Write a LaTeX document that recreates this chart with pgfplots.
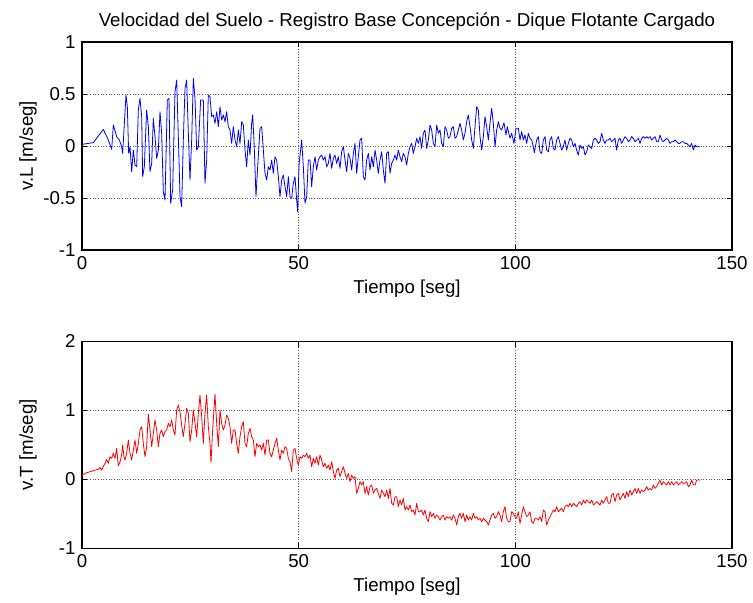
\documentclass[border=0pt]{standalone}
\usepackage{pgfplots}
\pgfplotsset{compat=1.18}
\usepackage{fontspec}
\setmainfont{Liberation Sans}
\begin{document}
\fontsize{14pt}{17pt}\selectfont
\begin{tikzpicture}
\pgfplotsset{
  mstyle/.style={
    scale only axis, width=487.5pt, height=156pt,
    xmin=0, xmax=150, xtick={0,50,100,150},
    tick align=inside, major tick length=4pt,
    xmajorgrids, ymajorgrids,
    grid style={line width=0.5pt, gray!70!black, dash pattern=on 0.8pt off 1.2pt},
    axis line style={line width=0.9pt},
    every tick/.style={black, line width=0.6pt},
    tick label style={font=\fontsize{14pt}{17pt}\selectfont},
    label style={font=\fontsize{14pt}{17pt}\selectfont},
    /pgf/number format/assume math mode=true,
    xlabel={Tiempo [seg]},
    xlabel style={yshift=2pt},
    every axis y label/.style={at={([xshift=-40.5pt]rel axis cs:0,0.5)}, rotate=90, anchor=center},
    anchor=south west,
  }
}
\path[use as bounding box] (0,0) rectangle (564.75pt,452.25pt);
\begin{axis}[mstyle, at={(61.5pt,264.75pt)},
  ymin=-1, ymax=1, ytick={-1,-0.5,0,0.5,1},
  yticklabels={-1,-0.5,0,0.5,1},
  ylabel={v.L [m/seg]},
  title={Velocidad del Suelo - Registro Base Concepción - Dique Flotante Cargado},
  title style={font=\fontsize{14pt}{17pt}\selectfont, yshift=-2pt}]
\addplot[blue, line width=0.6pt, line join=round] coordinates {
(0,0.016) (2.62,0.032) (4.92,0.160) (6.08,0.058) (6.85,-0.032) (7.23,0.202) (8.0,0.090) (8.62,0.058)
(9.15,-0.007) (9.38,-0.071) (10.15,0.490) (10.46,0.378) (10.77,-0.071) (11.08,-0.007) (11.46,-0.247)
(11.85,-0.039) (12.23,-0.183) (12.62,-0.199) (13.0,0.346) (13.38,0.458) (13.77,0.282) (14.0,-0.295)
(14.38,-0.199) (14.92,0.346) (15.31,0.186) (15.69,-0.247) (16.08,-0.167) (16.46,0.266) (16.85,0.090)
(17.23,-0.119) (17.62,-0.039) (18.0,0.330) (18.38,0.122) (18.77,-0.439) (19.15,-0.519) (19.69,0.442)
(20.08,0.458) (20.46,-0.551) (20.92,-0.423) (21.46,0.522) (21.85,0.634) (22.23,0.090) (22.62,-0.487)
(23.0,-0.583) (23.38,0.058) (23.77,0.554) (24.15,0.634) (24.54,0.122) (24.92,-0.327) (25.31,0.058)
(25.69,0.650) (26.08,0.458) (26.46,-0.039) (26.85,-0.007) (27.38,0.442) (28.0,0.442) (28.38,-0.359)
(28.77,-0.135) (29.15,0.490) (29.54,0.474) (29.92,0.282) (30.31,0.298) (30.69,0.218) (31.08,0.330)
(31.46,0.186) (31.85,0.378) (32.23,0.250) (32.62,0.298) (33.0,0.234) (33.38,0.330) (33.77,0.186)
(34.15,0.154) (34.54,0.025) (34.92,0.186) (35.31,0.058) (35.69,-0.007) (36.08,0.154) (36.46,0.025)
(36.85,0.234) (37.23,0.202) (37.62,-0.039) (38.0,-0.199) (38.38,0.058) (38.77,-0.087) (39.15,0.218)
(39.38,0.298) (39.69,0.058) (40.15,-0.487) (40.54,-0.199) (41.08,0.170) (41.46,0.186) (41.85,-0.039)
(42.23,-0.263) (42.62,-0.327) (43.0,-0.199) (43.38,-0.231) (43.77,-0.135) (44.15,-0.263) (44.54,-0.103)
(44.92,-0.135) (45.31,-0.295) (45.69,-0.487) (46.08,-0.327) (46.46,-0.279) (46.85,-0.391) (47.23,-0.487)
(47.62,-0.295) (48.0,-0.487) (48.38,-0.503) (48.77,-0.359) (49.15,-0.295) (49.54,-0.519) (49.77,-0.631)
(50.08,-0.183) (50.69,0.058) (51.08,-0.199) (51.46,-0.551) (51.85,-0.487) (52.23,-0.135) (52.62,-0.135)
(53.0,-0.391) (53.38,-0.199) (53.77,-0.103) (54.15,-0.231) (54.54,-0.135) (54.92,-0.103) (55.31,-0.087)
(55.69,-0.135) (56.08,-0.103) (56.46,-0.199) (56.85,-0.167) (57.23,-0.071) (57.62,-0.215) (58.0,-0.119)
(58.38,-0.087) (58.77,-0.167) (59.15,-0.103) (59.54,-0.215) (59.92,-0.055) (60.31,-0.007) (60.69,-0.135)
(61.08,-0.247) (61.46,-0.071) (61.85,-0.119) (62.23,-0.231) (62.62,-0.071) (63.0,0.025) (63.38,-0.263)
(63.77,-0.103) (64.15,0.058) (64.54,0.074) (64.92,-0.295) (65.31,-0.327) (65.69,-0.135) (66.08,-0.071)
(66.46,-0.231) (66.85,-0.103) (67.23,-0.199) (67.62,-0.039) (68.0,-0.135) (68.38,-0.263) (68.77,-0.135)
(69.15,-0.055) (69.54,-0.231) (69.92,-0.359) (70.31,-0.071) (70.69,-0.055) (71.08,-0.263) (71.46,-0.167)
(71.85,-0.135) (72.23,-0.087) (72.62,-0.135) (73.0,-0.039) (73.38,-0.103) (73.77,-0.151) (74.15,-0.071)
(74.54,-0.103) (74.92,-0.183) (75.31,-0.071) (75.69,-0.007) (76.08,0.025) (76.46,-0.071) (76.85,-0.007)
(77.23,0.074) (77.62,0.025) (78.0,0.090) (78.38,-0.023) (78.77,0.122) (79.15,0.154) (79.54,-0.023)
(79.92,0.058) (80.31,0.202) (80.69,0.154) (81.08,0.025) (81.46,-0.007) (81.85,0.202) (82.23,0.122)
(82.62,0.154) (83.0,0.025) (83.38,-0.007) (83.77,0.186) (84.15,0.154) (84.54,0.074) (84.92,0.090)
(85.31,0.170) (85.69,0.186) (86.08,0.074) (86.46,0.090) (86.85,0.154) (87.23,0.218) (87.62,0.154)
(88.0,0.058) (88.38,0.122) (88.77,0.234) (89.15,0.298) (89.54,0.186) (89.92,0.058) (90.31,-0.023)
(90.69,0.186) (91.08,0.378) (91.46,0.346) (91.85,0.090) (92.23,-0.039) (92.62,0.090) (93.0,0.282)
(93.38,0.186) (93.77,0.058) (94.15,0.218) (94.54,0.362) (94.92,0.218) (95.31,-0.007) (95.69,0.154)
(96.08,0.234) (96.46,0.170) (96.85,0.154) (97.38,0.224) (97.85,0.106) (98.15,0.186) (98.77,0.074)
(99.15,0.122) (99.69,0.025) (100.15,0.170) (100.69,0.170) (101.08,0.058) (101.46,0.138) (101.85,0.058)
(102.23,0.106) (102.62,0.025) (103.0,0.122) (103.38,0.074) (103.77,0.058) (104.15,-0.007) (104.38,-0.064)
(104.92,0.058) (105.31,0.090) (105.69,-0.055) (106.08,-0.071) (106.46,0.058) (106.85,0.090) (107.23,-0.039)
(107.62,-0.055) (108.0,0.058) (108.38,0.090) (108.77,-0.023) (109.15,-0.039) (109.54,0.058) (109.92,0.090)
(110.31,0.025) (110.69,-0.039) (111.08,-0.007) (111.46,0.058) (111.85,-0.039) (112.23,0.025) (112.62,0.074)
(113.0,0.058) (113.38,-0.007) (113.77,0.025) (114.15,-0.039) (114.54,-0.087) (114.92,0.009) (115.31,-0.023)
(115.69,-0.007) (116.08,-0.087) (116.46,-0.055) (116.85,0.009) (117.23,-0.007) (117.62,-0.023) (118.0,0.058)
(118.38,0.074) (118.77,0.058) (119.15,0.025) (119.54,0.041) (119.92,0.122) (120.31,0.058) (120.69,0.025)
(121.08,0.058) (121.46,0.058) (121.85,0.074) (122.23,0.041) (122.62,0.058) (123.0,0.074) (123.38,-0.039)
(123.77,0.058) (124.15,0.074) (124.54,0.025) (124.92,0.058) (125.31,0.090) (125.69,0.074) (126.08,0.041)
(126.46,0.058) (126.85,0.090) (127.23,0.074) (127.62,0.041) (128.0,0.058) (128.38,0.074) (128.77,0.025)
(129.15,0.074) (129.54,0.090) (129.92,0.074) (130.31,0.090) (130.69,0.074) (131.08,0.090) (131.46,0.058)
(131.85,0.074) (132.23,0.090) (132.62,0.041) (133.0,0.041) (133.38,0.106) (133.77,0.058) (134.15,0.041)
(134.54,0.058) (134.92,0.074) (135.31,0.058) (135.69,0.025) (136.08,0.041) (136.46,0.041) (136.85,0.058)
(137.23,0.041) (137.62,0.025) (138.0,0.025) (138.38,0.041) (138.77,0.041) (139.15,0.025) (139.54,0.025)
(139.92,0.009) (140.31,-0.007) (140.69,0.025) (141.08,-0.039) (141.46,0.009) (141.85,-0.007) (142.62,-0.007)
};
\end{axis}
\begin{axis}[mstyle, at={(61.5pt,41pt)}, height=155.25pt,
  ymin=-1, ymax=2, ytick={-1,0,1,2},
  ylabel={v.T [m/seg]}]
\addplot[red, line width=0.6pt, line join=round] coordinates {
(0,0.06) (1.08,0.096) (2.62,0.125) (3.77,0.145) (4.15,0.174) (4.54,0.135) (4.92,0.183) (5.31,0.232)
(5.69,0.290) (6.08,0.232) (6.46,0.328) (6.85,0.304) (7.23,0.377) (7.62,0.304) (8.0,0.449) (8.38,0.193)
(8.77,0.256) (9.15,0.352) (9.38,0.497) (9.69,0.328) (9.92,0.280) (10.31,0.377) (10.69,0.570) (11.08,0.377)
(11.46,0.280) (11.85,0.425) (12.23,0.570) (12.62,0.377) (13.0,0.521) (13.38,0.715) (13.77,0.763) (14.15,0.521)
(14.54,0.328) (14.92,0.473) (15.31,0.947) (15.69,0.715) (16.08,0.473) (16.46,0.666) (16.85,0.860) (17.23,0.715)
(17.62,0.473) (18.0,0.666) (18.38,0.715) (18.77,0.618) (19.15,0.691) (19.54,0.715) (19.92,0.811) (20.31,0.763)
(20.69,0.860) (21.08,0.715) (21.46,0.642) (21.85,1.005) (22.23,1.077) (22.62,0.980) (23.0,0.787) (23.38,0.618)
(23.77,0.811) (24.15,1.029) (24.54,0.956) (24.92,0.546) (25.31,0.715) (25.69,1.005) (26.08,0.811) (26.46,0.618)
(26.85,0.956) (27.23,1.222) (27.62,0.908) (28.0,0.521) (28.38,0.956) (28.77,1.222) (29.15,0.763) (29.54,0.521)
(29.77,0.241) (30.15,0.715) (30.69,1.236) (31.08,0.811) (31.46,0.473) (31.85,1.005) (32.23,0.811) (32.62,0.715)
(33.0,0.787) (33.38,0.932) (33.77,0.884) (34.15,0.763) (34.54,0.521) (34.92,0.715) (35.31,0.715) (35.69,0.521)
(36.08,0.377) (36.46,0.618) (36.85,0.763) (37.23,0.835) (37.62,0.521) (38.0,0.473) (38.38,0.666) (38.77,0.739)
(39.15,0.618) (39.54,0.570) (39.92,0.328) (40.31,0.521) (40.69,0.473) (41.08,0.497) (41.46,0.425) (41.85,0.521)
(42.23,0.352) (42.62,0.570) (43.0,0.570) (43.38,0.377) (43.77,0.328) (44.15,0.425) (44.54,0.521) (44.92,0.594)
(45.31,0.425) (45.69,0.280) (46.08,0.425) (46.46,0.377) (46.85,0.473) (47.23,0.449) (47.62,0.304) (48.0,0.256)
(48.38,0.111) (48.77,0.425) (49.15,0.449) (49.54,0.304) (49.92,0.207) (50.31,0.328) (50.69,0.304) (51.08,0.352)
(51.46,0.328) (51.85,0.377) (52.23,0.304) (52.62,0.352) (53.0,0.183) (53.38,0.304) (53.77,0.232) (54.15,0.328)
(54.54,0.207) (54.92,0.352) (55.31,0.280) (55.69,0.183) (56.08,0.232) (56.46,0.159) (56.85,0.207) (57.23,0.135)
(57.62,0.256) (58.0,0.111) (58.38,0.014) (58.77,0.135) (59.15,0.159) (59.54,0.038) (59.92,0.111) (60.31,0.183)
(60.69,0.087) (61.08,0.014) (61.46,0.087) (61.85,-0.034) (62.23,0.063) (62.62,0.014) (63.0,0.038) (63.38,-0.203)
(63.77,-0.131) (64.15,-0.034) (64.54,-0.082) (64.92,-0.034) (65.31,-0.203) (65.69,-0.107) (66.08,-0.227) (66.46,-0.107)
(66.85,-0.082) (67.23,-0.203) (67.62,-0.155) (68.0,-0.131) (68.38,-0.203) (68.77,-0.276) (69.15,-0.155) (69.54,-0.203)
(69.92,-0.251) (70.31,-0.155) (70.69,-0.276) (71.08,-0.131) (71.46,-0.348) (71.85,-0.372) (72.23,-0.251) (72.62,-0.251)
(73.0,-0.396) (73.38,-0.300) (73.77,-0.372) (74.15,-0.276) (74.54,-0.445) (74.92,-0.396) (75.31,-0.445) (75.69,-0.372)
(76.08,-0.469) (76.46,-0.445) (76.85,-0.517) (77.23,-0.348) (77.62,-0.469) (78.0,-0.469) (78.38,-0.445) (78.77,-0.517)
(79.15,-0.445) (79.54,-0.565) (79.92,-0.614) (80.31,-0.469) (80.69,-0.541) (81.08,-0.493) (81.46,-0.565) (81.85,-0.517)
(82.23,-0.541) (82.62,-0.590) (83.0,-0.541) (83.38,-0.517) (83.77,-0.590) (84.15,-0.541) (84.54,-0.565) (84.92,-0.541)
(85.31,-0.590) (85.69,-0.517) (86.08,-0.565) (86.46,-0.662) (86.85,-0.541) (87.23,-0.493) (87.62,-0.565) (88.0,-0.493)
(88.38,-0.614) (88.77,-0.517) (89.15,-0.590) (89.54,-0.541) (89.92,-0.590) (90.31,-0.493) (90.69,-0.565) (91.08,-0.541)
(91.46,-0.590) (91.85,-0.565) (92.23,-0.614) (92.62,-0.565) (93.0,-0.590) (93.38,-0.614) (93.77,-0.662) (94.15,-0.590)
(94.54,-0.517) (94.92,-0.493) (95.31,-0.565) (95.69,-0.541) (96.08,-0.469) (96.46,-0.517) (96.85,-0.614) (97.23,-0.469)
(97.62,-0.396) (98.0,-0.565) (98.38,-0.614) (98.77,-0.614) (99.15,-0.469) (99.54,-0.493) (99.92,-0.541) (100.31,-0.565)
(100.69,-0.469) (101.08,-0.638) (101.46,-0.517) (101.85,-0.396) (102.23,-0.469) (102.62,-0.541) (103.0,-0.517) (103.38,-0.469)
(103.77,-0.614) (104.15,-0.638) (104.54,-0.565) (104.92,-0.565) (105.31,-0.590) (105.69,-0.541) (106.08,-0.614) (106.46,-0.445)
(106.85,-0.469) (107.23,-0.662) (107.62,-0.590) (108.0,-0.541) (108.38,-0.493) (108.77,-0.445) (109.15,-0.469) (109.54,-0.396)
(109.92,-0.469) (110.31,-0.445) (110.69,-0.420) (111.08,-0.469) (111.46,-0.396) (111.85,-0.372) (112.23,-0.396) (112.62,-0.348)
(113.0,-0.396) (113.38,-0.348) (113.77,-0.372) (114.15,-0.396) (114.54,-0.348) (114.92,-0.324) (115.31,-0.372) (115.69,-0.300)
(116.08,-0.348) (116.46,-0.300) (116.85,-0.324) (117.23,-0.348) (117.62,-0.300) (118.0,-0.372) (118.38,-0.348) (118.77,-0.324)
(119.15,-0.348) (119.54,-0.372) (119.92,-0.300) (120.31,-0.348) (120.69,-0.300) (121.08,-0.251) (121.46,-0.348) (121.85,-0.348)
(122.23,-0.227) (122.62,-0.203) (123.0,-0.324) (123.38,-0.227) (123.77,-0.203) (124.15,-0.300) (124.54,-0.251) (124.92,-0.203)
(125.31,-0.276) (125.69,-0.179) (126.08,-0.251) (126.46,-0.155) (126.85,-0.227) (127.23,-0.179) (127.62,-0.131) (128.0,-0.203)
(128.38,-0.131) (128.77,-0.203) (129.15,-0.155) (129.54,-0.179) (129.92,-0.155) (130.31,-0.107) (130.69,-0.155) (131.08,-0.131)
(131.46,-0.155) (131.85,-0.082) (132.23,-0.131) (132.62,-0.107) (133.0,-0.058) (133.38,-0.010) (133.77,-0.082) (134.15,-0.034)
(134.54,-0.058) (134.92,-0.082) (135.31,-0.034) (135.69,-0.082) (136.08,-0.034) (136.46,-0.082) (136.85,-0.058) (137.23,-0.034)
(137.62,-0.082) (138.0,-0.058) (138.38,-0.034) (138.77,-0.058) (139.15,-0.058) (139.54,-0.034) (139.92,-0.107) (140.31,-0.082)
(140.69,-0.010) (141.08,-0.082) (141.46,-0.082) (141.85,-0.010) (142.62,-0.010)
};
\end{axis}
\end{tikzpicture}
\end{document}
